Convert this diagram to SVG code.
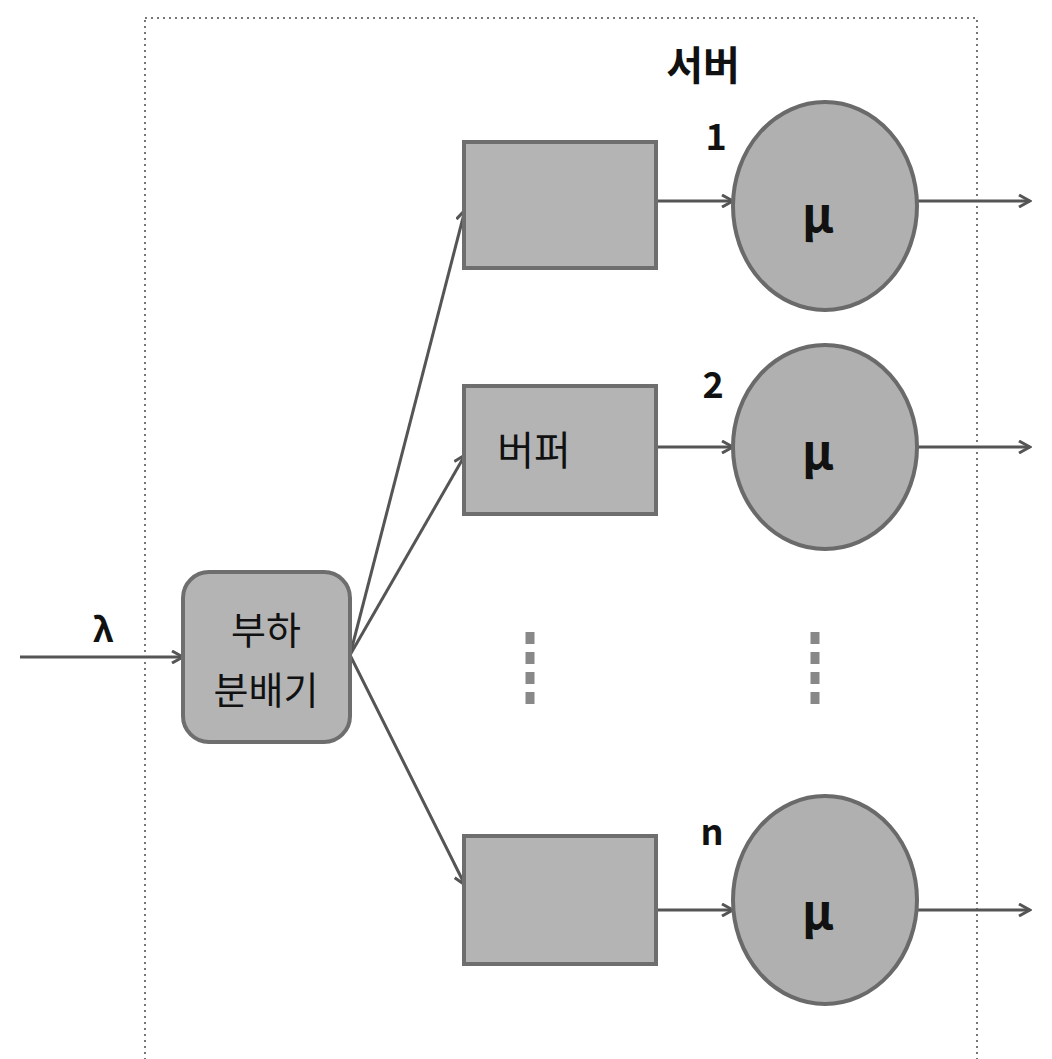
<svg xmlns="http://www.w3.org/2000/svg" width="1052" height="1059" viewBox="0 0 1052 1059">
<style>
.txt{font-family:"Noto Sans CJK KR","Liberation Sans",sans-serif;fill:#111;}
.box{fill:#b4b4b4;stroke:#6e6e6e;stroke-width:4;}
.srv{fill:#b0b0b0;stroke:#6a6a6a;stroke-width:4;}
.ln{stroke:#555;stroke-width:3;fill:none;marker-end:url(#ah);}
.sep{stroke:#888;stroke-width:9;stroke-dasharray:12 8;}
</style>
<defs>
<marker id="ah" markerWidth="14" markerHeight="14" refX="12" refY="7" orient="auto" markerUnits="userSpaceOnUse">
<path d="M1,1 L12,7 L1,13" fill="none" stroke="#555" stroke-width="3"/>
</marker>
</defs>
<rect width="1052" height="1059" fill="#fff"/>
<g id="frame">
<rect x="145" y="18" width="832" height="1060" fill="none" stroke="#777" stroke-width="2" stroke-dasharray="2 4"/>
<text class="txt" x="703" y="80" font-size="40" text-anchor="middle" font-weight="bold">서버</text>
</g>
<g id="connectors">
<line class="ln" x1="20" y1="657" x2="183" y2="657"/>
<line class="ln" x1="350" y1="655" x2="465" y2="210"/>
<line class="ln" x1="350" y1="655" x2="465" y2="455"/>
<line class="ln" x1="350" y1="655" x2="465" y2="885"/>
<line class="ln" x1="657" y1="201" x2="733" y2="201"/>
<line class="ln" x1="918" y1="201" x2="1030" y2="201"/>
<line class="ln" x1="657" y1="447" x2="733" y2="447"/>
<line class="ln" x1="918" y1="447" x2="1030" y2="447"/>
<line class="ln" x1="657" y1="910" x2="733" y2="910"/>
<line class="ln" x1="918" y1="910" x2="1030" y2="910"/>
</g>
<g id="lambda"><text class="txt" x="103" y="642" font-size="34" text-anchor="middle" font-weight="bold">λ</text></g>
<g id="distributor">
<rect class="box" x="183" y="572" width="167" height="170" rx="26" fill="#bdbdbd"/>
<text class="txt" x="266" y="644" font-size="38" text-anchor="middle">부하</text>
<text class="txt" x="266" y="704" font-size="38" text-anchor="middle">분배기</text>
</g>
<g id="buffer1"><rect class="box" x="464" y="142" width="192" height="126"/></g>
<g id="buffer2">
<rect class="box" x="464" y="386" width="192" height="128"/>
<text class="txt" x="534" y="465" font-size="40" text-anchor="middle">버퍼</text>
</g>
<g id="buffern"><rect class="box" x="464" y="836" width="192" height="128"/></g>
<g id="server1">
<ellipse class="srv" cx="825" cy="206" rx="92" ry="104"/>
<text class="txt" x="716" y="150" font-size="36" text-anchor="middle" font-weight="bold">1</text>
<text class="txt" x="818" y="232" font-size="48" text-anchor="middle" font-weight="bold">μ</text>
</g>
<g id="server2">
<ellipse class="srv" cx="825" cy="447" rx="92" ry="102"/>
<text class="txt" x="713" y="398" font-size="36" text-anchor="middle" font-weight="bold">2</text>
<text class="txt" x="818" y="469" font-size="48" text-anchor="middle" font-weight="bold">μ</text>
</g>
<g id="servern">
<ellipse class="srv" cx="825" cy="900" rx="92" ry="104"/>
<text class="txt" x="712" y="845" font-size="36" text-anchor="middle" font-weight="bold">n</text>
<text class="txt" x="818" y="929" font-size="48" text-anchor="middle" font-weight="bold">μ</text>
</g>
<g id="ellipsis">
<line class="sep" x1="530" y1="632" x2="530" y2="712"/>
<line class="sep" x1="815" y1="632" x2="815" y2="712"/>
</g>
</svg>
